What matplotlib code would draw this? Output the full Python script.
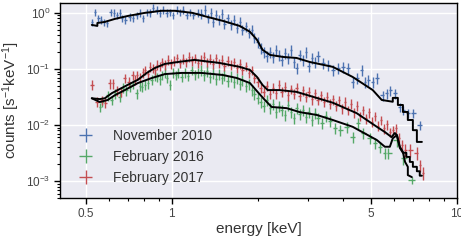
import numpy as np
import matplotlib
matplotlib.use("Agg")
import matplotlib.pyplot as plt
import seaborn as sns

sns.set_style("darkgrid")
plt.rcParams['font.family'] = ['Liberation Sans', 'DejaVu Sans']
plt.rcParams['mathtext.default'] = 'regular'

labels = ["November 2010", "February 2016", "February 2017"]
colors = ["#4C72B0", "#55A868", "#C44E52"]

# data points: (energy keV, counts, relative error)
nov2010 = [
    (0.524, 0.69, .15), (0.537, 1.04, .15), (0.553, 0.81, .15), (0.565, 0.75, .15),
    (0.577, 0.69, .15), (0.592, 0.66, .15), (0.611, 1.04, .15), (0.626, 1.0, .15),
    (0.641, 0.92, .15), (0.657, 1.0, .15), (0.668, 0.81, .15), (0.684, 0.75, .15),
    (0.713, 0.85, .15), (0.730, 0.81, .15), (0.754, 0.92, .15), (0.772, 1.0, .15),
    (0.791, 0.81, .15), (0.817, 1.04, .15), (0.837, 1.0, .15), (0.858, 1.23, .15),
    (0.886, 1.13, .15), (0.908, 1.0, .15), (0.930, 1.13, .15), (0.960, 1.0, .15),
    (0.984, 1.04, .15), (1.008, 0.92, .15), (1.041, 1.13, .15), (1.067, 1.04, .15),
    (1.093, 1.13, .15), (1.129, 0.92, .15), (1.157, 1.04, .15), (1.185, 0.92, .15),
    (1.234, 1.0, .15), (1.27, 0.96, .2), (1.31, 1.13, .2), (1.34, 0.81, .2),
    (1.37, 1.0, .2), (1.39, 0.69, .2), (1.43, 0.92, .2), (1.46, 0.75, .2),
    (1.50, 0.96, .2), (1.53, 0.64, .2), (1.57, 0.81, .2), (1.61, 0.61, .2),
    (1.65, 0.75, .2), (1.69, 0.54, .2), (1.73, 0.69, .2), (1.77, 0.50, .2),
    (1.82, 0.58, .2), (1.86, 0.44, .2), (1.91, 0.50, .2), (1.95, 0.36, .2),
    (2.0, 0.30, .22), (2.05, 0.24, .22), (2.10, 0.20, .22), (2.15, 0.17, .22),
    (2.21, 0.20, .22), (2.26, 0.164, .22), (2.32, 0.22, .22), (2.37, 0.178, .22),
    (2.43, 0.145, .22), (2.49, 0.19, .22), (2.55, 0.157, .22), (2.62, 0.22, .22),
    (2.68, 0.133, .22), (2.74, 0.104, .22), (2.81, 0.178, .22), (2.88, 0.145, .22),
    (2.95, 0.20, .22), (3.02, 0.113, .22), (3.10, 0.157, .22), (3.17, 0.133, .22),
    (3.25, 0.17, .22), (3.39, 0.128, .22), (3.53, 0.118, .22), (3.67, 0.096, .22),
    (3.82, 0.104, .22), (3.98, 0.109, .22), (4.14, 0.104, .22), (4.31, 0.059, .22),
    (4.46, 0.069, .22), (4.64, 0.096, .22), (4.75, 0.059, .22), (4.87, 0.064, .22),
    (5.07, 0.059, .22), (5.24, 0.069, .22), (5.50, 0.034, .2), (5.67, 0.037, .2),
    (5.82, 0.042, .2), (6.06, 0.037, .2), (6.31, 0.021, .2), (6.47, 0.0185, .2),
    (6.73, 0.0164, .2), (7.01, 0.0164, .2), (7.41, 0.010, .2),
]

feb2016 = [
    (0.559, 0.021, .2), (0.570, 0.026, .2), (0.596, 0.034, .2), (0.616, 0.028, .2),
    (0.631, 0.037, .2), (0.657, 0.032, .2), (0.672, 0.046, .2), (0.690, 0.042, .2),
    (0.713, 0.048, .2), (0.730, 0.054, .2), (0.754, 0.037, .2), (0.772, 0.050, .2),
    (0.785, 0.048, .2), (0.804, 0.052, .2), (0.823, 0.056, .2), (0.851, 0.064, .2),
    (0.872, 0.075, .2), (0.886, 0.072, .2), (0.908, 0.066, .2), (0.922, 0.078, .2),
    (0.945, 0.085, .2), (0.960, 0.069, .2), (0.984, 0.052, .2), (1.008, 0.085, .2),
    (1.033, 0.078, .2), (1.05, 0.088, .2), (1.084, 0.072, .2), (1.11, 0.085, .2),
    (1.138, 0.075, .2), (1.175, 0.096, .2), (1.204, 0.081, .2), (1.234, 0.088, .2),
    (1.264, 0.096, .22), (1.295, 0.078, .22), (1.327, 0.092, .22), (1.36, 0.072, .22),
    (1.39, 0.085, .22), (1.43, 0.066, .22), (1.46, 0.081, .22), (1.50, 0.069, .22),
    (1.53, 0.078, .22), (1.57, 0.061, .22), (1.61, 0.075, .22), (1.65, 0.059, .22),
    (1.69, 0.069, .22), (1.73, 0.054, .22), (1.77, 0.064, .22), (1.82, 0.050, .22),
    (1.86, 0.054, .22), (1.91, 0.042, .22), (1.95, 0.036, .22), (2.0, 0.030, .22),
    (2.05, 0.026, .22), (2.10, 0.022, .22), (2.15, 0.028, .22), (2.21, 0.020, .22),
    (2.26, 0.024, .22), (2.32, 0.0170, .22), (2.37, 0.022, .22), (2.43, 0.0185, .22),
    (2.49, 0.0151, .22), (2.55, 0.0228, .22), (2.62, 0.0170, .22), (2.68, 0.0133, .22),
    (2.74, 0.020, .22), (2.81, 0.0157, .22), (2.88, 0.0185, .22), (2.95, 0.0139, .22),
    (3.02, 0.0170, .22), (3.10, 0.0123, .22), (3.17, 0.0164, .22), (3.25, 0.0133, .22),
    (3.37, 0.0109, .22), (3.47, 0.0145, .22), (3.58, 0.0118, .22), (3.73, 0.0088, .22),
    (3.88, 0.0081, .22), (4.11, 0.0093, .22), (4.31, 0.0061, .22), (4.49, 0.0109, .22),
    (4.68, 0.0072, .22), (4.95, 0.0059, .22), (5.16, 0.0048, .22), (5.37, 0.0041, .22),
    (5.59, 0.0032, .22), (5.74, 0.0032, .22), (6.16, 0.0054, .25), (6.47, 0.0026, .25),
    (6.95, 0.00104, .15),
]

feb2017 = [
    (0.524, 0.052, .2), (0.548, 0.026, .2), (0.570, 0.028, .2), (0.582, 0.025, .2),
    (0.606, 0.056, .2), (0.621, 0.056, .2), (0.641, 0.042, .2), (0.662, 0.039, .2),
    (0.684, 0.069, .2), (0.707, 0.059, .2), (0.730, 0.078, .2), (0.742, 0.064, .2),
    (0.754, 0.078, .2), (0.772, 0.072, .2), (0.791, 0.088, .2), (0.804, 0.096, .2),
    (0.823, 0.081, .2), (0.837, 0.109, .2), (0.858, 0.104, .2), (0.872, 0.096, .2),
    (0.886, 0.118, .2), (0.908, 0.113, .2), (0.922, 0.133, .2), (0.945, 0.118, .2),
    (0.968, 0.145, .2), (0.992, 0.123, .2), (1.016, 0.139, .2), (1.041, 0.157, .2),
    (1.067, 0.128, .2), (1.093, 0.151, .2), (1.12, 0.133, .2), (1.147, 0.164, .2),
    (1.175, 0.139, .2), (1.204, 0.157, .2), (1.234, 0.128, .2), (1.264, 0.145, .2),
    (1.295, 0.164, .2), (1.327, 0.133, .2), (1.36, 0.151, .2), (1.39, 0.123, .2),
    (1.43, 0.157, .2), (1.46, 0.128, .2), (1.50, 0.145, .2), (1.53, 0.113, .2),
    (1.57, 0.139, .2), (1.61, 0.118, .2), (1.65, 0.133, .2), (1.69, 0.104, .2),
    (1.73, 0.123, .2), (1.77, 0.096, .2), (1.82, 0.113, .2), (1.86, 0.085, .2),
    (1.91, 0.096, .2), (1.95, 0.069, .2), (2.0, 0.059, .2), (2.05, 0.046, .2),
    (2.10, 0.039, .2), (2.15, 0.050, .2), (2.21, 0.036, .2), (2.26, 0.046, .2),
    (2.32, 0.037, .2), (2.37, 0.052, .2), (2.43, 0.039, .2), (2.49, 0.048, .2),
    (2.55, 0.034, .2), (2.62, 0.044, .2), (2.68, 0.036, .2), (2.74, 0.046, .2),
    (2.81, 0.033, .2), (2.88, 0.042, .2), (2.95, 0.032, .2), (3.02, 0.039, .2),
    (3.10, 0.029, .2), (3.17, 0.037, .2), (3.25, 0.028, .2), (3.33, 0.034, .2),
    (3.42, 0.026, .2), (3.50, 0.032, .2), (3.58, 0.024, .2), (3.67, 0.029, .2),
    (3.76, 0.022, .2), (3.85, 0.028, .2), (3.95, 0.020, .2), (4.05, 0.026, .2),
    (4.14, 0.0185, .2), (4.25, 0.024, .2), (4.35, 0.017, .2), (4.46, 0.022, .2),
    (4.57, 0.0145, .2), (4.68, 0.0185, .2), (4.80, 0.0133, .2), (4.92, 0.017, .2),
    (5.03, 0.0114, .2), (5.16, 0.0145, .2), (5.28, 0.0097, .2), (5.41, 0.0123, .2),
    (5.55, 0.0088, .2), (5.67, 0.0104, .2), (5.82, 0.0075, .2), (5.96, 0.0081, .2),
    (6.11, 0.0088, .2), (6.26, 0.0058, .25), (6.42, 0.0044, .25), (6.58, 0.0036, .25),
    (6.84, 0.0036, .25), (7.24, 0.0032, .25), (7.41, 0.0019, .25), (7.60, 0.0014, .25),
]

# folded model curves (energy keV, counts)
model_nov2010_e = [0.524, 0.548, 0.548, 0.582, 0.631, 0.70, 0.804, 0.922, 1.024, 1.18,
                   1.33, 1.51, 1.73, 1.88, 1.99, 2.08, 2.21, 2.45, 2.74, 3.05, 3.67,
                   4.31, 5.07, 5.45, 5.96, 5.96, 6.21, 6.21, 6.47, 6.47, 6.73, 6.73,
                   7.01, 7.01, 7.24, 7.24, 7.54]
model_nov2010_c = [0.61, 0.585, 0.66, 0.69, 0.78, 0.88, 1.0, 1.09, 1.09, 1.0,
                   0.85, 0.72, 0.585, 0.46, 0.33, 0.22, 0.178, 0.164, 0.157, 0.133, 0.109,
                   0.072, 0.042, 0.028, 0.026, 0.0305, 0.0305, 0.0228, 0.0228, 0.0171,
                   0.0171, 0.0123, 0.0123, 0.0081, 0.0081, 0.005, 0.005]

model_feb2016_e = [0.524, 0.559, 0.596, 0.631, 0.684, 0.76, 0.851, 0.945, 1.084, 1.27,
                   1.51, 1.69, 1.88, 2.0, 2.12, 2.24, 2.53, 2.81, 3.23, 3.67, 4.31,
                   5.24, 5.59, 5.82, 5.96, 6.16, 6.31, 6.47, 6.58, 6.73, 6.73, 6.95]
model_feb2016_c = [0.030, 0.0257, 0.028, 0.034, 0.042, 0.056, 0.069, 0.081, 0.085, 0.085,
                   0.078, 0.069, 0.056, 0.039, 0.028, 0.021, 0.020, 0.0170, 0.0151, 0.0123,
                   0.0093, 0.0054, 0.0041, 0.0041, 0.0058, 0.0066, 0.0041, 0.0033, 0.0022,
                   0.0018, 0.00128, 0.00118]

model_feb2017_e = [0.524, 0.559, 0.582, 0.616, 0.646, 0.70, 0.76, 0.817, 0.872, 0.945,
                   1.05, 1.20, 1.47, 1.73, 1.88, 1.99, 2.08, 2.17, 2.39, 2.74, 3.12,
                   3.67, 4.45, 5.24, 5.59, 5.9, 6.06, 6.16, 6.31, 6.47, 6.65, 6.65,
                   6.84, 6.84, 7.01, 7.01, 7.24, 7.24, 7.41, 7.41, 7.54]
model_feb2017_c = [0.030, 0.029, 0.030, 0.037, 0.042, 0.052, 0.064, 0.085, 0.104, 0.123,
                   0.133, 0.145, 0.128, 0.109, 0.096, 0.072, 0.052, 0.042, 0.042, 0.039,
                   0.032, 0.025, 0.0163, 0.0093, 0.0075, 0.0061, 0.0072, 0.0066, 0.0039,
                   0.0032, 0.0032, 0.0027, 0.0027, 0.0022, 0.0022, 0.0018, 0.0018,
                   0.0015, 0.0015, 0.00125, 0.00125]

fig = plt.figure(figsize=(4.61, 2.40), dpi=100)
ax = fig.add_axes([0.130, 0.175, 0.861, 0.8125])
ax.set_facecolor("#EAEAF2")


def half_widths(e):
    e = np.asarray(e)
    edges = np.sqrt(e[1:] * e[:-1])
    lo = np.concatenate([[e[0] - (edges[0] - e[0])], edges])
    hi = np.concatenate([edges, [e[-1] + (e[-1] - edges[-1])]])
    return e - lo, hi - e


for data, col, lab in zip([nov2010, feb2016, feb2017], colors, labels):
    arr = np.array(data)
    e, c, r = arr[:, 0], arr[:, 1], arr[:, 2]
    xl, xh = half_widths(e)
    ax.errorbar(e, c, xerr=[xl * 0.8, xh * 0.8], yerr=[c * r, c * r], fmt='none',
                ecolor=col, elinewidth=1.0, capsize=0, label=lab)

for me, mc in [(model_nov2010_e, model_nov2010_c),
               (model_feb2016_e, model_feb2016_c),
               (model_feb2017_e, model_feb2017_c)]:
    ax.plot(me, mc, color='black', lw=1.4, zorder=5)

ax.set_xscale('log')
ax.set_yscale('log')
ax.set_xlim(0.405, 10)
ax.set_ylim(5e-4, 1.5)

ax.set_xticks([0.5, 1, 5, 10])
ax.set_xticklabels(['0.5', '1', '5', '10'])
ax.xaxis.set_minor_locator(matplotlib.ticker.LogLocator(base=10, subs=np.arange(2, 10)))
ax.xaxis.set_minor_formatter(matplotlib.ticker.NullFormatter())
ax.set_yticks([1e-3, 1e-2, 1e-1, 1])

ax.grid(True, which='major', color='white', lw=1.0)
ax.grid(False, which='minor')
for s in ax.spines.values():
    s.set_visible(True)
    s.set_color('black')
    s.set_linewidth(1.0)

ax.tick_params(which='major', direction='out', length=4, width=1, color='black',
               labelsize=8.5, labelcolor='#444444', bottom=True, left=True, pad=3)
ax.tick_params(which='minor', direction='out', length=2, width=0.8, color='black',
               bottom=True, left=True)

ax.set_xlabel('energy [keV]', fontsize=11, color='#333333', labelpad=2)
ax.set_ylabel('counts [s$^{-1}$keV$^{-1}$]', fontsize=11, color='#333333', labelpad=3)

leg = ax.legend(loc='lower left', frameon=False, fontsize=10, bbox_to_anchor=(0.005, 0.005),
                handlelength=1.6, handletextpad=1.2, labelspacing=0.48)
for t in leg.get_texts():
    t.set_color('#333333')

fig.savefig('out.png', dpi=100)
